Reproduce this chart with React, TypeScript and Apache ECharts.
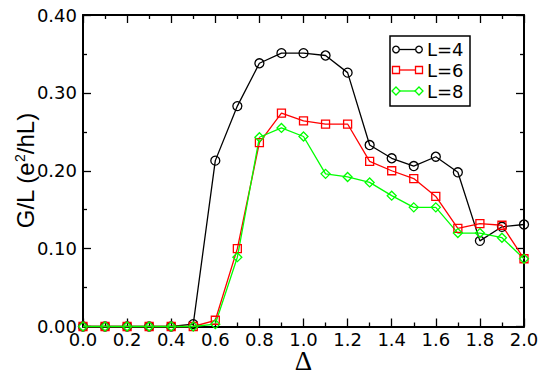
import React, { useEffect, useRef } from "react";
import * as echarts from "echarts";

// Gap parameter Δ and conductance per length for three system sizes
const deltas = [0.0, 0.1, 0.2, 0.3, 0.4, 0.5, 0.6, 0.7, 0.8, 0.9, 1.0, 1.1, 1.2, 1.3, 1.4, 1.5, 1.6, 1.7, 1.8, 1.9, 2.0];
const gL4 = [0, 0, 0, 0, 0, 0.003, 0.213, 0.283, 0.338, 0.351, 0.351, 0.348, 0.326, 0.233, 0.216, 0.206, 0.218, 0.198, 0.110, 0.128, 0.131];
const gL6 = [0, 0, 0, 0, 0, 0, 0.008, 0.100, 0.236, 0.274, 0.264, 0.260, 0.260, 0.212, 0.200, 0.190, 0.167, 0.126, 0.132, 0.130, 0.087];
const gL8 = [0, 0, 0, 0, 0, 0, 0.003, 0.089, 0.243, 0.255, 0.244, 0.196, 0.192, 0.185, 0.168, 0.153, 0.153, 0.120, 0.120, 0.114, 0.087];

const seriesNames = ["L=4", "L=6", "L=8"];
const seriesColors = ["#000000", "#ff0000", "#00ff00"];
const seriesSymbols = ["circle", "rect", "diamond"];
const seriesSizes = [9, 8, 9];
const seriesValues = [gL4, gL6, gL8];

const TICK_FONT = "DejaVu Sans";

function axisCommon(show: boolean) {
  return {
    axisLine: { show: true, onZero: false, lineStyle: { color: "#000", width: 2 } },
    axisTick: { show: true, inside: true, length: 8, lineStyle: { color: "#000", width: 1.3 } },
    minorTick: { show: true, splitNumber: 2, length: 4, lineStyle: { color: "#000", width: 1.3 } },
    splitLine: { show: false },
    axisLabel: { show },
  };
}

export default function App() {
  const ref = useRef<HTMLDivElement>(null);

  useEffect(() => {
    if (!ref.current) return;
    const chart = echarts.init(ref.current, null, { renderer: "svg" });

    // Legend drawn as a boxed key: a short line with a marker at each end
    const legendX = 390;
    const legendY = 36;
    const rowYs = [49.5, 70, 91];
    const legendChildren: any[] = [
      {
        type: "rect",
        shape: { x: legendX, y: legendY, width: 80, height: 70 },
        style: { fill: "#fff", stroke: "#000", lineWidth: 1.5 },
      },
    ];
    seriesNames.forEach((name, i) => {
      const y = rowYs[i];
      const c = seriesColors[i];
      const x1 = 396;
      const x2 = 419;
      legendChildren.push({
        type: "line",
        shape: { x1, y1: y, x2, y2: y },
        style: { stroke: c, lineWidth: 1.3 },
      });
      [x1, x2].forEach((cx) => {
        if (seriesSymbols[i] === "circle") {
          legendChildren.push({
            type: "circle",
            shape: { cx, cy: y, r: 3.3 },
            style: { fill: "#fff", stroke: c, lineWidth: 1.3 },
          });
        } else if (seriesSymbols[i] === "rect") {
          legendChildren.push({
            type: "rect",
            shape: { x: cx - 3.5, y: y - 3.5, width: 7, height: 7 },
            style: { fill: "#fff", stroke: c, lineWidth: 1.3 },
          });
        } else {
          legendChildren.push({
            type: "polygon",
            shape: { points: [[cx, y - 4], [cx + 4, y], [cx, y + 4], [cx - 4, y]] },
            style: { fill: "#fff", stroke: c, lineWidth: 1.3 },
          });
        }
      });
      legendChildren.push({
        type: "text",
        style: {
          x: 427,
          y,
          text: name,
          fill: "#000",
          font: `18px "${TICK_FONT}"`,
          verticalAlign: "middle",
          align: "left",
        },
      });
    });

    const option: any = {
      animation: false,
      backgroundColor: "#fff",
      grid: {
        left: 83,
        right: 25,
        top: 15,
        bottom: 46.5,
        containLabel: false,
        outerBoundsMode: "none",
      },
      xAxis: [
        {
          type: "value",
          min: 0,
          max: 2,
          interval: 0.2,
          position: "bottom",
          ...axisCommon(true),
          axisLabel: {
            show: true,
            margin: 4,
            color: "#000",
            fontFamily: TICK_FONT,
            fontSize: 18,
            formatter: (v: number) => v.toFixed(1),
          },
          name: "Δ",
          nameLocation: "middle",
          nameGap: 24,
          nameMoveOverlap: false,
          nameTextStyle: {
            color: "#000",
            fontFamily: "'Liberation Serif', 'DejaVu Serif', serif",
            fontSize: 27,
            lineHeight: 20,
          },
        },
        {
          type: "value",
          min: 0,
          max: 2,
          interval: 0.2,
          position: "top",
          ...axisCommon(false),
        },
      ],
      yAxis: [
        {
          type: "value",
          min: 0,
          max: 0.4,
          interval: 0.1,
          position: "left",
          ...axisCommon(true),
          axisLabel: {
            show: true,
            margin: 6,
            color: "#000",
            fontFamily: TICK_FONT,
            fontSize: 18,
            formatter: (v: number) => v.toFixed(2),
          },
          name: "{a|G/L (e}{s|2}{a|/hL)}",
          nameLocation: "middle",
          nameGap: 46,
          nameMoveOverlap: false,
          nameTextStyle: {
            rich: {
              a: { color: "#000", fontFamily: "Liberation Sans", fontSize: 24 },
              s: { color: "#000", fontFamily: "Liberation Sans", fontSize: 14, verticalAlign: "top" },
            },
          },
        },
        {
          type: "value",
          min: 0,
          max: 0.4,
          interval: 0.1,
          position: "right",
          ...axisCommon(false),
        },
      ],
      series: seriesNames.map((name, i) => ({
        name,
        type: "line",
        xAxisIndex: 0,
        yAxisIndex: 0,
        data: deltas.map((d, k) => [d, seriesValues[i][k]]),
        symbol: seriesSymbols[i],
        symbolSize: seriesSizes[i],
        showAllSymbol: true,
        lineStyle: { color: seriesColors[i], width: 1.3 },
        itemStyle: { color: "rgba(0,0,0,0)", borderColor: seriesColors[i], borderWidth: 1.3 },
        clip: false,
      })),
      graphic: legendChildren,
    };

    chart.setOption(option);
    return () => chart.dispose();
  }, []);

  return (
    <div
      ref={ref}
      style={{ position: "absolute", left: 0, top: 0, width: 549, height: 373 }}
    />
  );
}
